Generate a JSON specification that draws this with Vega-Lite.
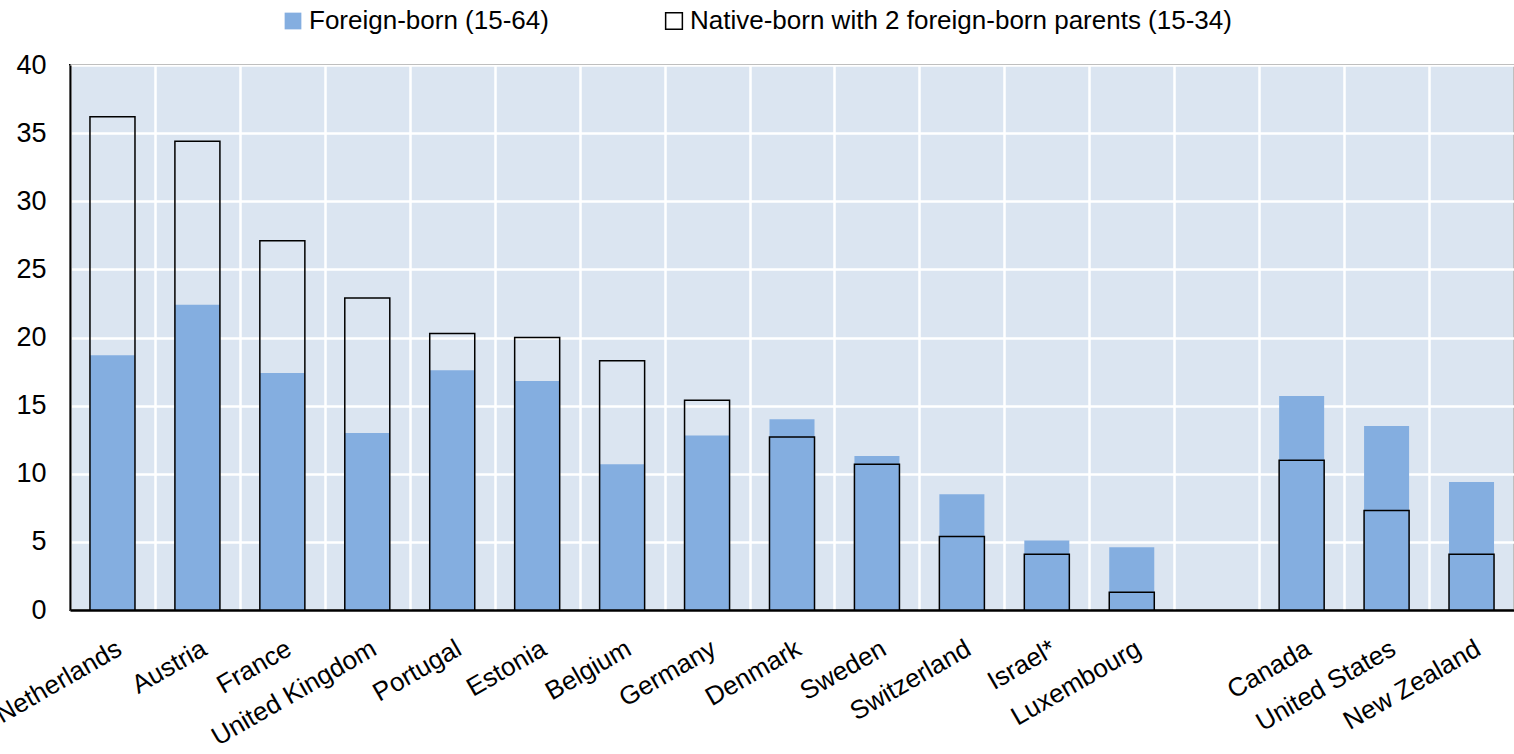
{
  "$schema": "https://vega.github.io/schema/vega-lite/v6.json",
  "width": 1444,
  "height": 545,
  "autosize": {"type": "none"},
  "padding": {"left": 70, "top": 65, "right": 0, "bottom": 144},
  "background": "white",
  "config": {
    "font": "Liberation Sans",
    "view": {"fill": "#DBE5F1", "stroke": "black", "strokeWidth": 2}
  },
  "data": {
    "values": [
      {"country": "Netherlands", "series": "Foreign-born (15-64)", "value": 18.7},
      {"country": "Austria", "series": "Foreign-born (15-64)", "value": 22.4},
      {"country": "France", "series": "Foreign-born (15-64)", "value": 17.4},
      {"country": "United Kingdom", "series": "Foreign-born (15-64)", "value": 13.0},
      {"country": "Portugal", "series": "Foreign-born (15-64)", "value": 17.6},
      {"country": "Estonia", "series": "Foreign-born (15-64)", "value": 16.8},
      {"country": "Belgium", "series": "Foreign-born (15-64)", "value": 10.7},
      {"country": "Germany", "series": "Foreign-born (15-64)", "value": 12.8},
      {"country": "Denmark", "series": "Foreign-born (15-64)", "value": 14.0},
      {"country": "Sweden", "series": "Foreign-born (15-64)", "value": 11.3},
      {"country": "Switzerland", "series": "Foreign-born (15-64)", "value": 8.5},
      {"country": "Israel*", "series": "Foreign-born (15-64)", "value": 5.1},
      {"country": "Luxembourg", "series": "Foreign-born (15-64)", "value": 4.6},
      {"country": "Canada", "series": "Foreign-born (15-64)", "value": 15.7},
      {"country": "United States", "series": "Foreign-born (15-64)", "value": 13.5},
      {"country": "New Zealand", "series": "Foreign-born (15-64)", "value": 9.4},
      {"country": "Netherlands", "series": "Native-born with 2 foreign-born parents (15-34)", "value": 36.2},
      {"country": "Austria", "series": "Native-born with 2 foreign-born parents (15-34)", "value": 34.4},
      {"country": "France", "series": "Native-born with 2 foreign-born parents (15-34)", "value": 27.1},
      {"country": "United Kingdom", "series": "Native-born with 2 foreign-born parents (15-34)", "value": 22.9},
      {"country": "Portugal", "series": "Native-born with 2 foreign-born parents (15-34)", "value": 20.3},
      {"country": "Estonia", "series": "Native-born with 2 foreign-born parents (15-34)", "value": 20.0},
      {"country": "Belgium", "series": "Native-born with 2 foreign-born parents (15-34)", "value": 18.3},
      {"country": "Germany", "series": "Native-born with 2 foreign-born parents (15-34)", "value": 15.4},
      {"country": "Denmark", "series": "Native-born with 2 foreign-born parents (15-34)", "value": 12.7},
      {"country": "Sweden", "series": "Native-born with 2 foreign-born parents (15-34)", "value": 10.7},
      {"country": "Switzerland", "series": "Native-born with 2 foreign-born parents (15-34)", "value": 5.4},
      {"country": "Israel*", "series": "Native-born with 2 foreign-born parents (15-34)", "value": 4.1},
      {"country": "Luxembourg", "series": "Native-born with 2 foreign-born parents (15-34)", "value": 1.3},
      {"country": "Canada", "series": "Native-born with 2 foreign-born parents (15-34)", "value": 11.0},
      {"country": "United States", "series": "Native-born with 2 foreign-born parents (15-34)", "value": 7.3},
      {"country": "New Zealand", "series": "Native-born with 2 foreign-born parents (15-34)", "value": 4.1}
    ]
  },
  "mark": {"type": "bar", "strokeWidth": 1.5, "width": {"band": 0.53}},
  "encoding": {
    "x": {
      "field": "country",
      "type": "nominal",
      "scale": {
        "domain": ["Netherlands", "Austria", "France", "United Kingdom", "Portugal", "Estonia", "Belgium", "Germany", "Denmark", "Sweden", "Switzerland", "Israel*", "Luxembourg", " ", "Canada", "United States", "New Zealand"],
        "paddingInner": 0,
        "paddingOuter": 0
      },
      "axis": {
        "title": null,
        "labelAngle": -30,
        "labelAlign": "right",
        "labelBaseline": "top",
        "labelFontSize": 26,
        "labelColor": "black",
        "labelPadding": 25,
        "labelDx": -5,
        "labelLimit": 400,
        "labelOverlap": false,
        "labelBound": false,
        "ticks": false,
        "tickBand": "extent",
        "grid": true,
        "gridColor": "white",
        "gridWidth": 2.5,
        "domainColor": "black",
        "domainWidth": 2.5
      }
    },
    "y": {
      "field": "value",
      "type": "quantitative",
      "stack": null,
      "scale": {"domain": [0, 40]},
      "axis": {
        "title": null,
        "values": [0, 5, 10, 15, 20, 25, 30, 35, 40],
        "labelFontSize": 27,
        "labelColor": "black",
        "labelPadding": 24,
        "ticks": false,
        "grid": true,
        "gridColor": "white",
        "gridWidth": 2.5,
        "domainColor": "black",
        "domainWidth": 2
      }
    },
    "fill": {
      "field": "series",
      "type": "nominal",
      "scale": {
        "domain": ["Foreign-born (15-64)", "Native-born with 2 foreign-born parents (15-34)"],
        "range": ["#84AEE0", "transparent"]
      },
      "legend": {
        "title": null,
        "orient": "none",
        "direction": "horizontal",
        "legendX": 210,
        "legendY": -57,
        "symbolType": "square",
        "symbolSize": 280,
        "symbolStrokeWidth": 1.5,
        "labelFontSize": 26,
        "labelColor": "black",
        "labelOffset": 3,
        "columnPadding": 112,
        "labelLimit": 800
      }
    },
    "stroke": {
      "field": "series",
      "type": "nominal",
      "scale": {
        "domain": ["Foreign-born (15-64)", "Native-born with 2 foreign-born parents (15-34)"],
        "range": ["transparent", "black"]
      },
      "legend": {
        "title": null,
        "orient": "none",
        "direction": "horizontal",
        "legendX": 210,
        "legendY": -57,
        "symbolType": "square",
        "symbolSize": 280,
        "labelFontSize": 26,
        "labelColor": "black",
        "labelOffset": 3,
        "columnPadding": 112,
        "labelLimit": 800
      }
    }
  }
}
